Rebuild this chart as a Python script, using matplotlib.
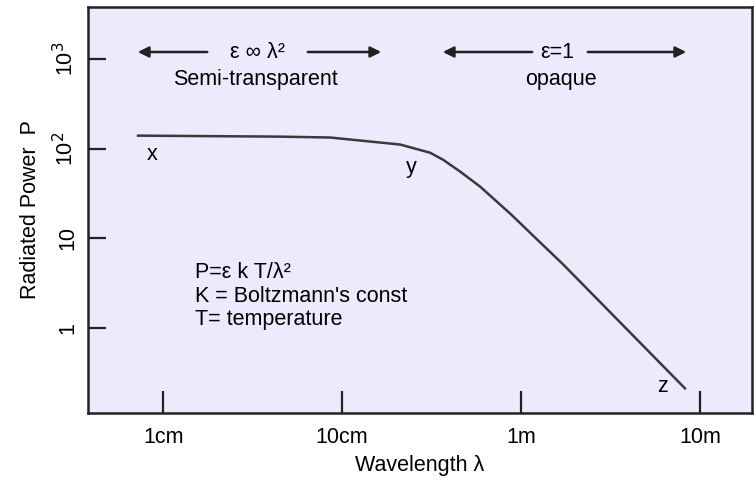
import numpy as np
import matplotlib.pyplot as plt

plt.rcParams['font.family'] = ['Liberation Sans', 'DejaVu Sans']

# curve (wavelength in m, radiated power)
wavelength = [0.00724, 0.0451, 0.0857, 0.143, 0.211, 0.310, 0.367, 0.456, 0.590, 0.88, 1.23, 1.72, 8.24]
power = [139.6, 136, 133, 120, 111, 90, 75, 55.5, 37.7, 18.4, 9.66, 5.09, 0.211]

x_ticks = [0.01, 0.1, 1, 10]
x_labels = ['1cm', '10cm', '1m', '10m']
y_ticks = [1, 10, 100, 1000]
y_labels = ['1', '10', '10$^2$', '10$^3$']

bg = '#ECEBFC'
ink = '#222222'
fs = 15.5

fig = plt.figure(figsize=(7.54, 4.8), dpi=100)
ax = fig.add_axes([0.1167, 0.1396, 0.8806, 0.8458])
ax.set_facecolor(bg)

ax.plot(wavelength, power, color='#3a3a3a', lw=1.8)

ax.set_xscale('log')
ax.set_yscale('log')
ax.set_xlim(10**-2.42, 10**1.29)
ax.set_ylim(10**-0.95, 10**3.58)

ax.set_xticks(x_ticks)
ax.set_xticklabels(x_labels, fontsize=fs)
ax.set_yticks(y_ticks)
ax.set_yticklabels(y_labels, fontsize=fs, rotation=90, va='center')
ax.minorticks_off()
ax.tick_params(direction='in', width=1.6, color=ink)
ax.tick_params(axis='x', length=16, pad=10)
ax.tick_params(axis='y', length=13, pad=7)
for s in ax.spines.values():
    s.set_linewidth(1.8)
    s.set_color(ink)

ax.set_xlabel('Wavelength λ', fontsize=fs, labelpad=5)
ax.set_ylabel('Radiated Power  P', fontsize=fs, labelpad=9)

# region annotations, placed in figure pixels
def arrow(x0, x1, y):
    ax.annotate('', xy=(x1, y), xytext=(x0, y), xycoords='figure pixels',
                arrowprops=dict(arrowstyle='-|>', color=ink, lw=1.8, mutation_scale=16))

H = 480
arrow(210, 135, H - 52)
arrow(305, 384, H - 52)
arrow(535, 440, H - 52)
arrow(585, 689, H - 52)
fig.text(257 / 754, 1 - 52 / H, 'ε ∞ λ²', ha='center', va='center', fontsize=fs)
fig.text(557 / 754, 1 - 52 / H, 'ε=1', ha='center', va='center', fontsize=fs)
fig.text(255 / 754, 1 - 79 / H, 'Semi-transparent', ha='center', va='center', fontsize=fs)
fig.text(561 / 754, 1 - 79 / H, 'opaque', ha='center', va='center', fontsize=fs)

fig.text(152 / 754, 1 - 154 / H, 'x', ha='center', va='center', fontsize=fs)
fig.text(411 / 754, 1 - 167 / H, 'y', ha='center', va='center', fontsize=fs)
fig.text(663 / 754, 1 - 386 / H, 'z', ha='center', va='center', fontsize=fs)

fig.text(195 / 754, 1 - 272 / H, 'P=ε k T/λ²', ha='left', va='center', fontsize=fs)
fig.text(195 / 754, 1 - 297 / H, "K = Boltzmann's const", ha='left', va='center', fontsize=fs)
fig.text(195 / 754, 1 - 320 / H, 'T= temperature', ha='left', va='center', fontsize=fs)

fig.savefig('out.png', dpi=100, facecolor='white')
